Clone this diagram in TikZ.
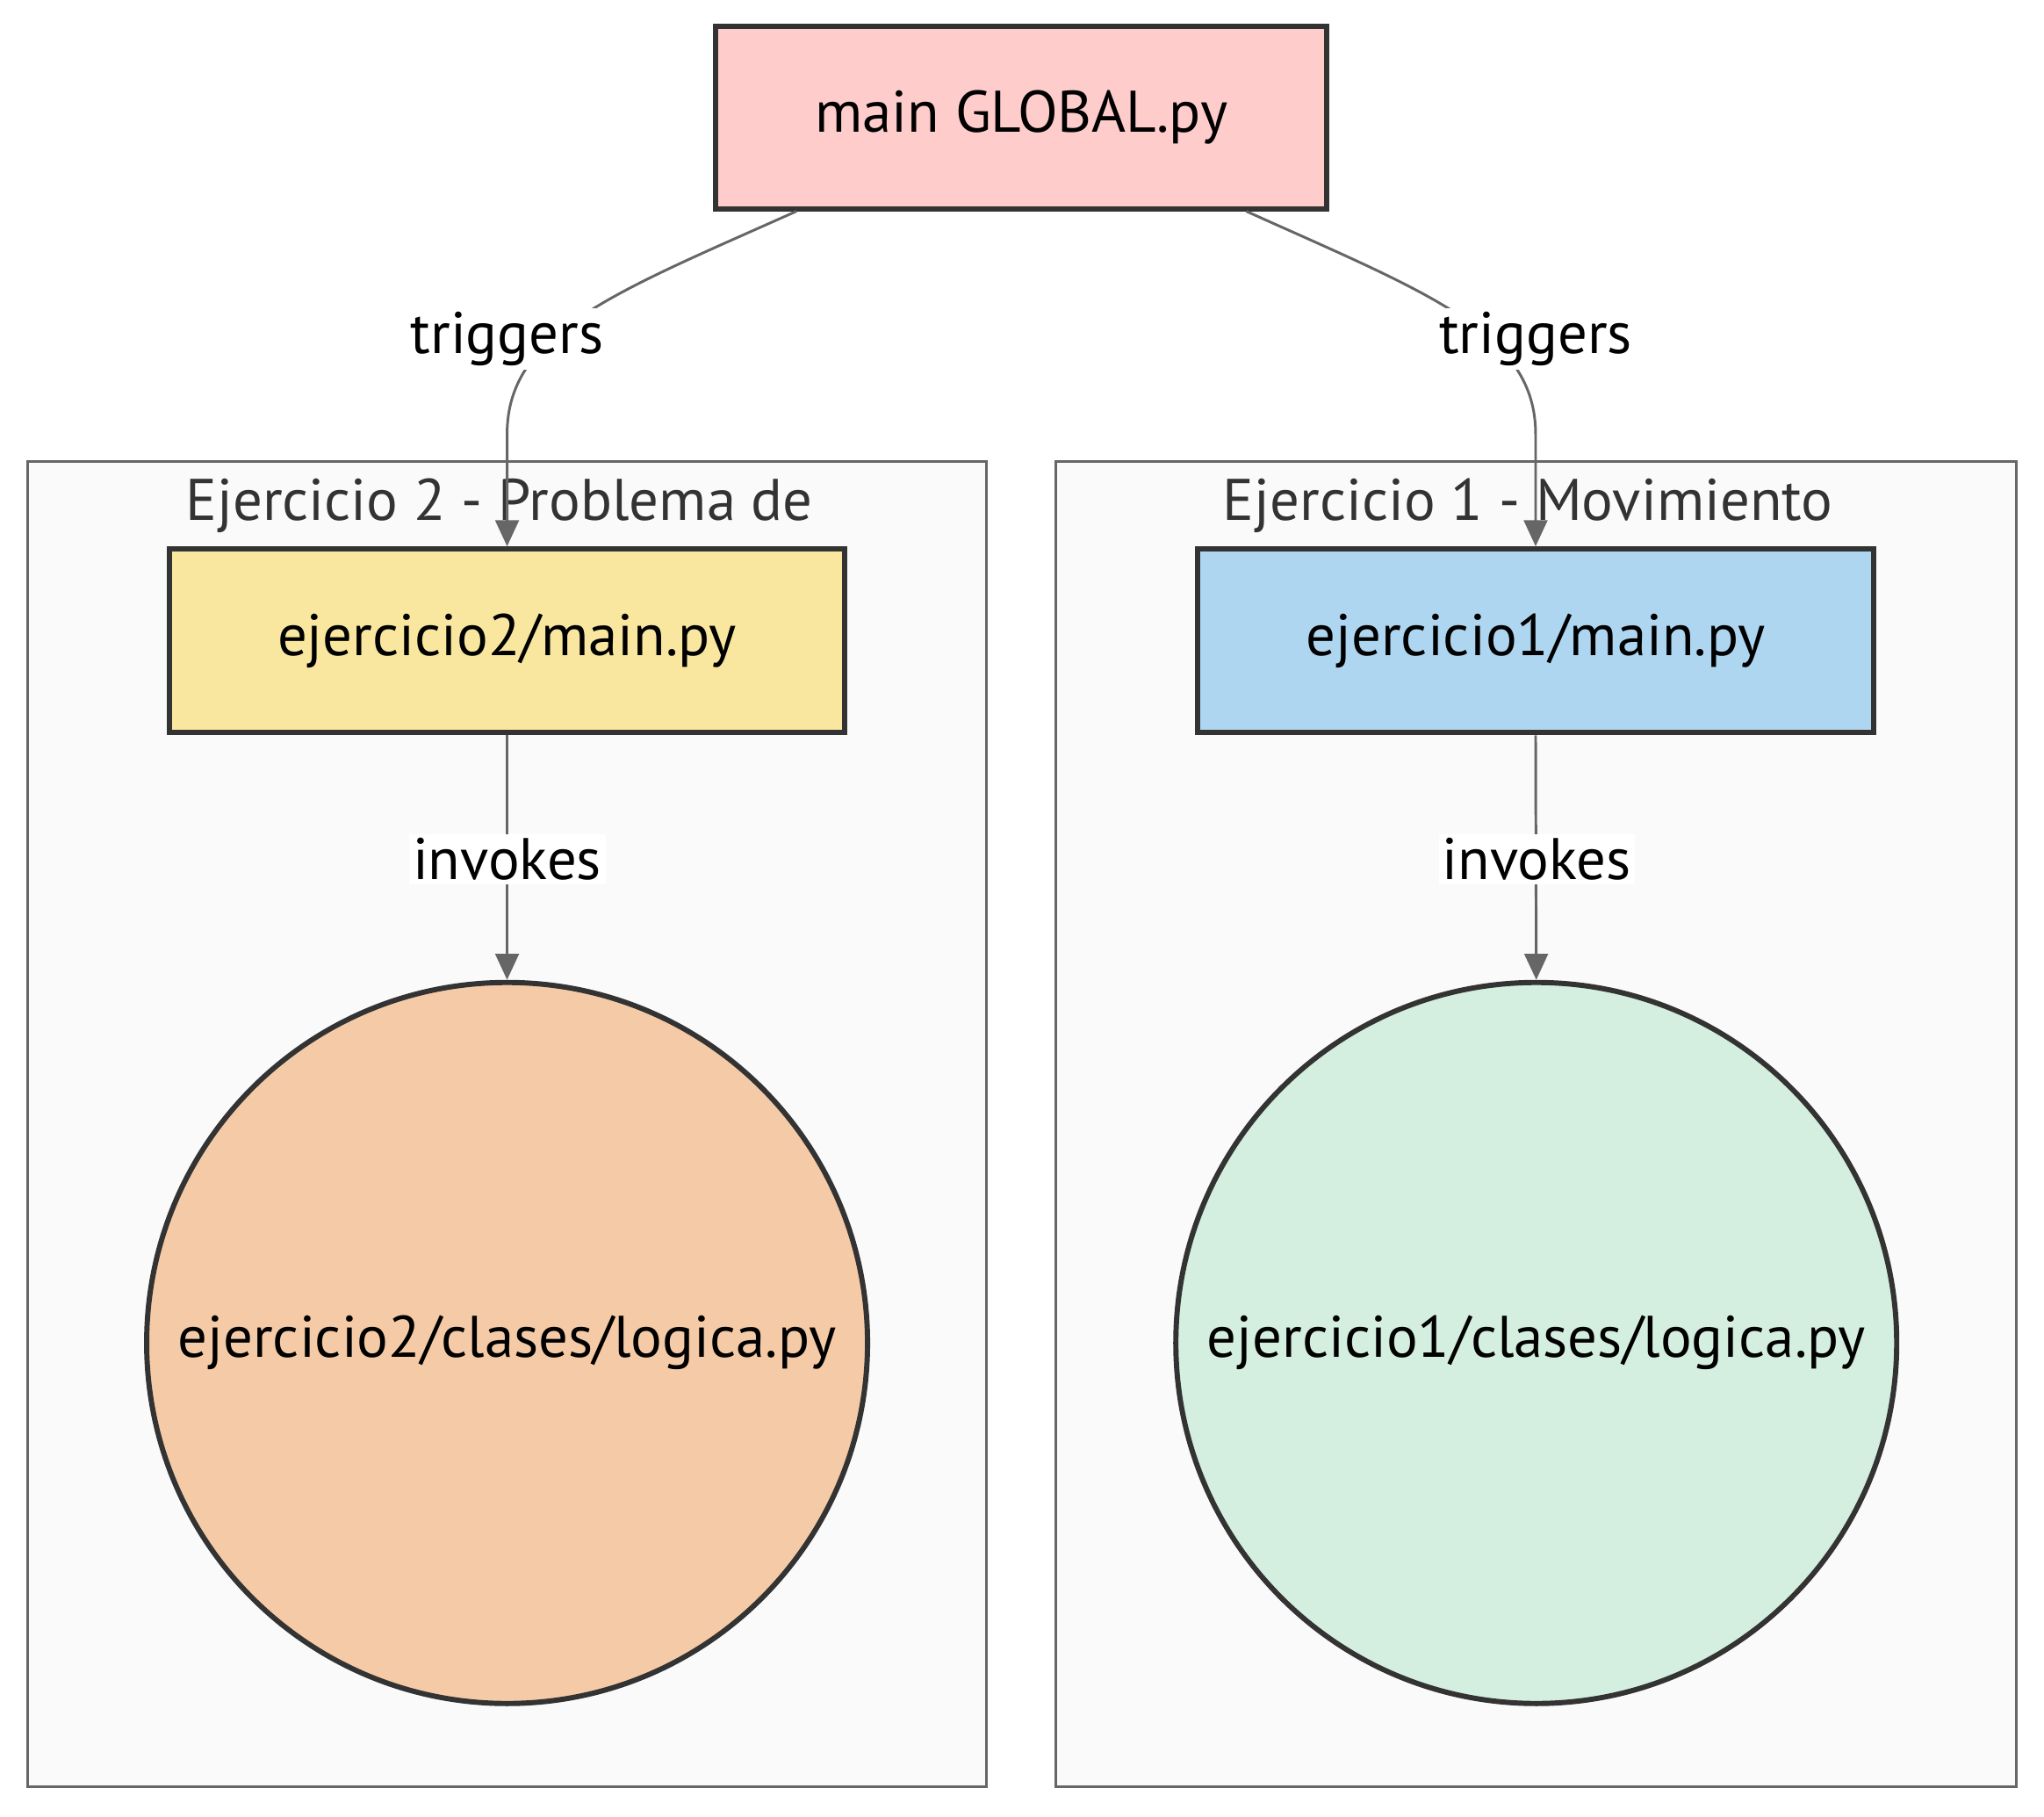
\documentclass[tikz,border=0pt]{standalone}
\usepackage{fontspec}
\setmainfont{PT Sans}
\usepackage{xcolor}
\usetikzlibrary{arrows.meta}

\definecolor{globalred}{HTML}{FFCCCC}
\definecolor{ejyellow}{HTML}{F9E79F}
\definecolor{ejblue}{HTML}{AED6F1}
\definecolor{logicorange}{HTML}{F5CBA7}
\definecolor{logicgreen}{HTML}{D4EFDF}
\definecolor{nodeline}{HTML}{333333}
\definecolor{groupline}{HTML}{666666}
\definecolor{groupfill}{HTML}{FAFAFA}
\definecolor{edgegray}{HTML}{666666}

\begin{document}
\begin{tikzpicture}[x=1pt, y=-1pt,
    txt/.style={font=\fontsize{45}{54}\selectfont},
    filebox/.style={txt, draw=nodeline, line width=4pt, minimum width=518pt, minimum height=141pt},
    logic/.style={txt, circle, draw=nodeline, line width=4pt, minimum size=553pt, inner sep=0pt},
    group/.style={draw=groupline, fill=groupfill, line width=2pt},
    grouptitle/.style={txt, text=nodeline},
    flow/.style={draw=edgegray, line width=2pt, -{Triangle[length=20pt,width=18pt]}},
    tag/.style={txt, fill=white, inner sep=3pt}]
    % Frame
    \useasboundingbox[fill=white] (0,0) rectangle (1568,1393);

    % Subgraphs
    \draw[group] (21,354) rectangle (757,1370);
    \node[grouptitle] (g2title) at (383,388) {Ejercicio 2 - Problema de};
    \draw[group] (810,354) rectangle (1547,1370);
    \node[grouptitle] (g1title) at (1172,388) {Ejercicio 1 - Movimiento};

    % Files
    \node[filebox, fill=globalred, minimum width=469pt, minimum height=140pt] (main) at (783.5,90) {main GLOBAL.py};
    \node[filebox, fill=ejyellow] (e2main) at (389,491.5) {ejercicio2/main.py};
    \node[filebox, fill=ejblue] (e1main) at (1178,491.5) {ejercicio1/main.py};
    \node[logic, fill=logicorange] (e2logic) at (389,1030) {ejercicio2/clases/logica.py};
    \node[logic, fill=logicgreen] (e1logic) at (1178.5,1030) {ejercicio1/clases/logica.py};

    % Connectors
    \draw[flow] ([xshift=64pt]main.south west) .. controls (470,225) and (389,255) .. ([yshift=86pt]e2main.north) -- (e2main.north);
    \draw[flow] ([xshift=-64pt]main.south east) .. controls (1096,225) and (1178,255) .. ([yshift=86pt]e1main.north) -- (e1main.north);
    \draw[flow] (e2main.south) -- (e2logic.north);
    \draw[flow] (e1main.south) -- (e1logic.north);

    % Labels
    \node[tag] (trig2) at (389,260) {triggers};
    \node[tag] (trig1) at (1178,260) {triggers};
    \node[tag] (inv2) at (389,659) {invokes};
    \node[tag] (inv1) at (1179,659) {invokes};
\end{tikzpicture}
\end{document}
